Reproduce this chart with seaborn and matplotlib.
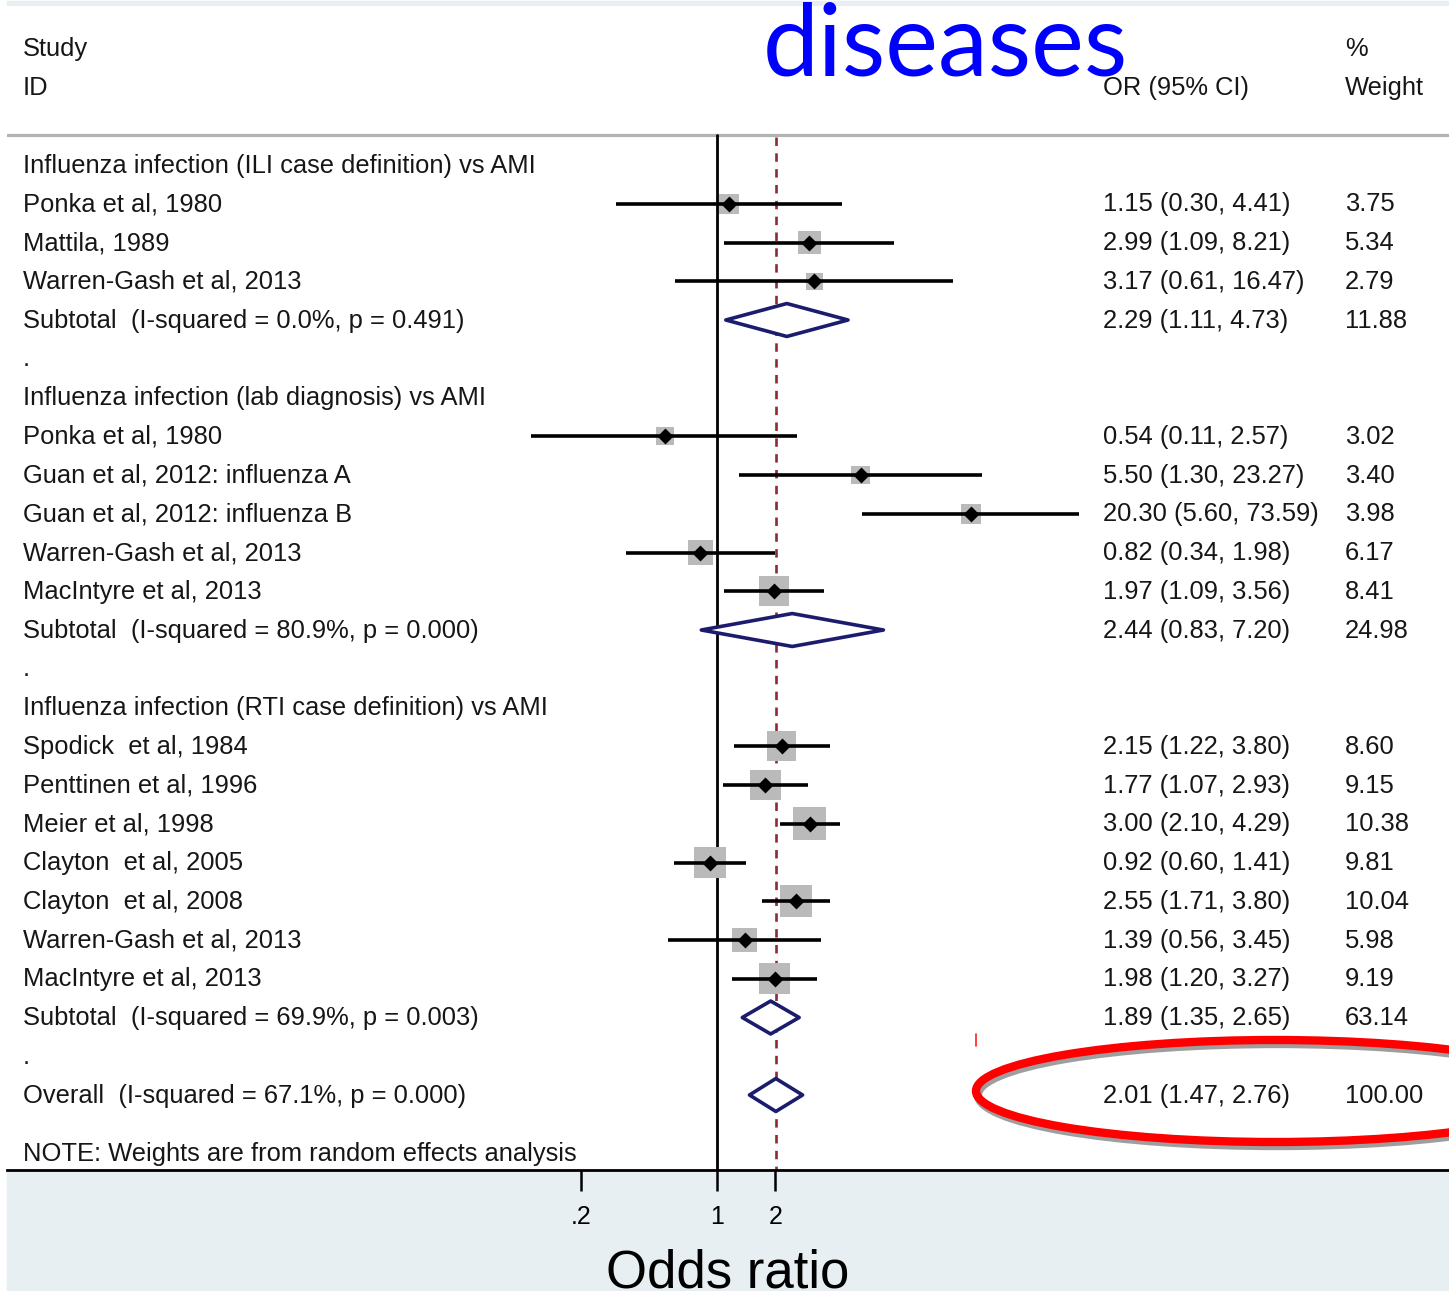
import numpy as np
import pandas as pd
import matplotlib
matplotlib.use("Agg")
import matplotlib.pyplot as plt
import matplotlib.transforms as mtrans
from matplotlib.patches import Polygon, Ellipse, Rectangle
from matplotlib.lines import Line2D
import seaborn as sns

# ---------------- data ----------------
group_titles = [
    "Influenza infection (ILI case definition) vs AMI",
    "Influenza infection (lab diagnosis) vs AMI",
    "Influenza infection (RTI case definition) vs AMI",
]

study_names = [
    "Ponka et al, 1980", "Mattila, 1989", "Warren-Gash et al, 2013",
    "Ponka et al, 1980", "Guan et al, 2012: influenza A", "Guan et al, 2012: influenza B",
    "Warren-Gash et al, 2013", "MacIntyre et al, 2013",
    "Spodick  et al, 1984", "Penttinen et al, 1996", "Meier et al, 1998",
    "Clayton  et al, 2005", "Clayton  et al, 2008", "Warren-Gash et al, 2013",
    "MacIntyre et al, 2013",
]
study_group = [0, 0, 0, 1, 1, 1, 1, 1, 2, 2, 2, 2, 2, 2, 2]
study_or = [1.15, 2.99, 3.17, 0.54, 5.50, 20.30, 0.82, 1.97,
            2.15, 1.77, 3.00, 0.92, 2.55, 1.39, 1.98]
study_lo = [0.30, 1.09, 0.61, 0.11, 1.30, 5.60, 0.34, 1.09,
            1.22, 1.07, 2.10, 0.60, 1.71, 0.56, 1.20]
study_hi = [4.41, 8.21, 16.47, 2.57, 23.27, 73.59, 1.98, 3.56,
            3.80, 2.93, 4.29, 1.41, 3.80, 3.45, 3.27]
study_weight = [3.75, 5.34, 2.79, 3.02, 3.40, 3.98, 6.17, 8.41,
                8.60, 9.15, 10.38, 9.81, 10.04, 5.98, 9.19]

subtotal_labels = [
    "Subtotal  (I-squared = 0.0%, p = 0.491)",
    "Subtotal  (I-squared = 80.9%, p = 0.000)",
    "Subtotal  (I-squared = 69.9%, p = 0.003)",
]
subtotal_or = [2.29, 2.44, 1.89]
subtotal_lo = [1.11, 0.83, 1.35]
subtotal_hi = [4.73, 7.20, 2.65]
subtotal_weight = [11.88, 24.98, 63.14]

overall_label = "Overall  (I-squared = 67.1%, p = 0.000)"
overall_or, overall_lo, overall_hi, overall_weight = 2.01, 1.47, 2.76, 100.00

x_ticks = [0.2, 1, 2]
x_ticklabels = [".2", "1", "2"]
note_text = "NOTE: Weights are from random effects analysis"
title_word = "diseases"

# ---------------- row layout ----------------
study_rows, subtotal_rows, header_rows, dot_rows = [], [], [], []
r = 0
for g in range(len(group_titles)):
    header_rows.append(r)
    r += 1
    for i, grp in enumerate(study_group):
        if grp == g:
            study_rows.append(r)
            r += 1
    subtotal_rows.append(r)
    r += 1
    dot_rows.append(r)
    r += 1
overall_row = r

studies = pd.DataFrame({
    "study": study_names, "row": study_rows, "OR": study_or,
    "lo": study_lo, "hi": study_hi, "weight": study_weight,
})

# ---------------- figure ----------------
W, H = 1449, 1291
sns.set_theme(style="white")
plt.rcParams["font.family"] = ["Liberation Sans", "DejaVu Sans"]

fig = plt.figure(figsize=(W / 100, H / 100), dpi=100, facecolor="white")

band = "#e8eff2"
fig.patches.append(Rectangle((7 / W, 0), 1 - 7 / W, (H - 1172) / H,
                             transform=fig.transFigure, color=band, zorder=-5))
fig.patches.append(Rectangle((7 / W, 1 - 6 / H), 1 - 7 / W, 5 / H,
                             transform=fig.transFigure, color=band, zorder=-5))

ax_left, ax_right, ax_top, ax_bot = 7, W, 6, 1170
ax = fig.add_axes([ax_left / W, 1 - ax_bot / H, (ax_right - ax_left) / W, (ax_bot - ax_top) / H])
ax.set_facecolor("white")

# row -> pixel: y = 165 + 38.75*row ; log(OR) -> pixel: x = 717 + 84.3*ln(OR)
row0, row_h = 165.0, 38.75
x_one, x_scale = 717.0, 84.3
ax.set_xscale("log")
ax.set_xlim(np.exp((ax_left - x_one) / x_scale), np.exp((ax_right - x_one) / x_scale))
ax.set_ylim((ax_bot - row0) / row_h, (ax_top - row0) / row_h)

for s in ["top", "left", "right"]:
    ax.spines[s].set_visible(False)
ax.spines["bottom"].set_color("black")
ax.spines["bottom"].set_linewidth(2.0)

ax.set_xticks(x_ticks)
ax.set_xticklabels(x_ticklabels)
ax.minorticks_off()
ax.tick_params(axis="x", direction="out", length=15, width=1.8, pad=10,
               labelsize=18, colors="black", bottom=True)
ax.set_yticks([])
ax.set_xlabel("Odds ratio", fontsize=38, labelpad=14, color="black")

# header separator line
sep_row = (135 - row0) / row_h
ax.axhline(sep_row, color="#b3b3b3", lw=2.3, zorder=1)

# reference lines
ylo = ax.get_ylim()[0]
ax.plot([1, 1], [sep_row, ylo], color="black", lw=2.0, zorder=2)
ax.plot([overall_or, overall_or], [sep_row + 0.05, ylo], color="#8c2a36", lw=1.9,
        dashes=(3.2, 2.8), zorder=2)

# confidence intervals
ax.hlines(studies["row"], studies["lo"], studies["hi"], color="black", lw=2.6, zorder=4)

# weight boxes (area proportional to weight) and point estimates
wmax = max(study_weight)
sns.scatterplot(data=studies, x="OR", y="row", size="weight", sizes=(0, 54 * wmax),
                size_norm=(0, wmax), marker="s", color="#bababa", linewidth=0,
                legend=False, ax=ax, zorder=3)
sns.scatterplot(data=studies, x="OR", y="row", marker="D", s=66, color="black",
                linewidth=0, legend=False, ax=ax, zorder=5)

# pooled diamonds
half_h = 0.425
def pooled_diamond(est, lo, hi, row):
    pts = [(lo, row), (est, row - half_h), (hi, row), (est, row + half_h)]
    ax.add_patch(Polygon(pts, closed=True, facecolor="white", edgecolor="#1b1c6d",
                         lw=2.6, zorder=4, joinstyle="round"))

for e, l, h, rr in zip(subtotal_or, subtotal_lo, subtotal_hi, subtotal_rows):
    pooled_diamond(e, l, h, rr)
pooled_diamond(overall_or, overall_lo, overall_hi, overall_row)

# text columns
tr = mtrans.blended_transform_factory(ax.transAxes, ax.transData)
def col(px):
    return (px - ax_left) / (ax_right - ax_left)

txt_kw = dict(transform=tr, fontsize=18.4, color="#161616", va="center_baseline", ha="left")
x_lab, x_ci, x_w = col(23), col(1103), col(1345)
dy = -0.05

ax.text(x_lab, -3 + dy, "Study", **txt_kw)
ax.text(x_lab, -2 + dy, "ID", **txt_kw)
ax.text(x_ci, -2 + dy, "OR (95% CI)", **txt_kw)
ax.text(x_w, -3 + dy, "%", **txt_kw)
ax.text(x_w, -2 + dy, "Weight", **txt_kw)

for t, rr in zip(group_titles, header_rows):
    ax.text(x_lab, rr + dy, t, **txt_kw)
for rr in dot_rows:
    ax.text(x_lab, rr + dy, ".", **txt_kw)

def ci_text(e, l, h):
    return f"{e:.2f} ({l:.2f}, {h:.2f})"

for _, row in studies.iterrows():
    ax.text(x_lab, row["row"] + dy, row["study"], **txt_kw)
    ax.text(x_ci, row["row"] + dy, ci_text(row["OR"], row["lo"], row["hi"]), **txt_kw)
    ax.text(x_w, row["row"] + dy, f"{row['weight']:.2f}", **txt_kw)

for lab, e, l, h, w, rr in zip(subtotal_labels, subtotal_or, subtotal_lo, subtotal_hi,
                               subtotal_weight, subtotal_rows):
    ax.text(x_lab, rr + dy, lab, **txt_kw)
    ax.text(x_ci, rr + dy, ci_text(e, l, h), **txt_kw)
    ax.text(x_w, rr + dy, f"{w:.2f}", **txt_kw)

ax.text(x_lab, overall_row + dy, overall_label, **txt_kw)
ax.text(x_ci, overall_row + dy, ci_text(overall_or, overall_lo, overall_hi), **txt_kw)
ax.text(x_w, overall_row + dy, f"{overall_weight:.2f}", **txt_kw)
ax.text(x_lab, overall_row + 1.5 + dy, note_text, **txt_kw)

# highlight around the overall estimate
cx, cy, ew, eh = 1275, 1091, 598, 102
fig.patches.append(Ellipse(((cx + 2) / W, 1 - (cy + 4) / H), ew / W, eh / H,
                           transform=fig.transFigure, fill=False,
                           edgecolor="#9e9e9e", lw=6, zorder=6))
fig.patches.append(Ellipse((cx / W, 1 - cy / H), ew / W, eh / H,
                           transform=fig.transFigure, fill=False,
                           edgecolor="#ff0000", lw=6, zorder=7))
fig.lines.append(Line2D([976 / W, 976 / W], [1 - 1034 / H, 1 - 1046 / H],
                        transform=fig.transFigure, color="#ff3030", lw=1.3, zorder=7))

# overlaid heading word
fig.text(945 / W, 1 - 76 / H, title_word, ha="center", va="baseline",
         color="#0000ff", fontsize=72, family=["Lato", "DejaVu Sans"], zorder=10)

fig.savefig("out.png", dpi=100, facecolor="white")
